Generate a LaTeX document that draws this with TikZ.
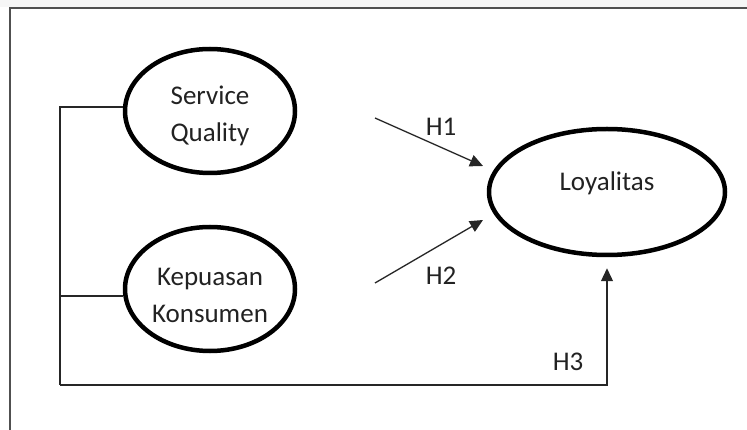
\documentclass[tikz,border=0pt]{standalone}
\usepackage{fontspec}
\setmainfont{Carlito}
\usepackage{xcolor}
\usepackage{tikz}
\usetikzlibrary{shapes.geometric, arrows.meta, positioning, calc}
\definecolor{framegrey}{HTML}{505050}
\definecolor{textgrey}{HTML}{222222}

\begin{document}
\begin{tikzpicture}[x=1pt, y=-1pt,
    construct/.style={ellipse, draw=black, line width=4.5pt},
    caption/.style={align=center, text=textgrey, font=\fontsize{27}{37}\selectfont},
    link/.style={draw=black!85, line width=1.3pt},
    path/.style={link, -{Triangle[length=13pt, width=12pt]}},
    hyp/.style={text=textgrey, font=\fontsize{27}{32}\selectfont}]
    \useasboundingbox (0,0) rectangle (747,430);
    % page frame (only top and left edges in view)
    \fill[gray!7] (0,0) rectangle (747,7);
    \draw[framegrey, line width=2pt] (10,430) -- (10,8) -- (747,8);

    % constructs
    \node[construct, minimum width=170pt, minimum height=124pt] (sq) at (210,111) {};
    \node[construct, minimum width=170pt, minimum height=124pt] (kk) at (210,289) {};
    \node[construct, minimum width=236pt, minimum height=126pt] (loy) at (607,192) {};
    \node[caption] (sqtext) at (210,116) {Service\\Quality};
    \node[caption] (kktext) at (210,295) {Kepuasan\\Konsumen};
    \node[caption] (loytext) at (607,183) {Loyalitas};

    % H1 and H2 paths
    \coordinate (h1s) at (375,118);
    \coordinate (h1e) at (483,166);
    \coordinate (h2s) at (375,283);
    \coordinate (h2e) at (483,220);
    \draw[path] (h1s) -- (h1e);
    \draw[path] (h2s) -- (h2e);
    \node[hyp] (h1) at (441,127) {H1};
    \node[hyp] (h2) at (441,276) {H2};

    % H3: joint path from both constructs round the bottom
    \coordinate (bend) at (60,385);
    \draw[link] ([yshift=4pt]sq.west) -| (bend);
    \draw[link] ([yshift=-7pt]kk.west) -- ([yshift=-7pt]kk.west -| bend);
    \draw[path, shorten >=11pt] (bend) -| (loy.south);
    \node[hyp] (h3) at (568,362) {H3};
\end{tikzpicture}
\end{document}
